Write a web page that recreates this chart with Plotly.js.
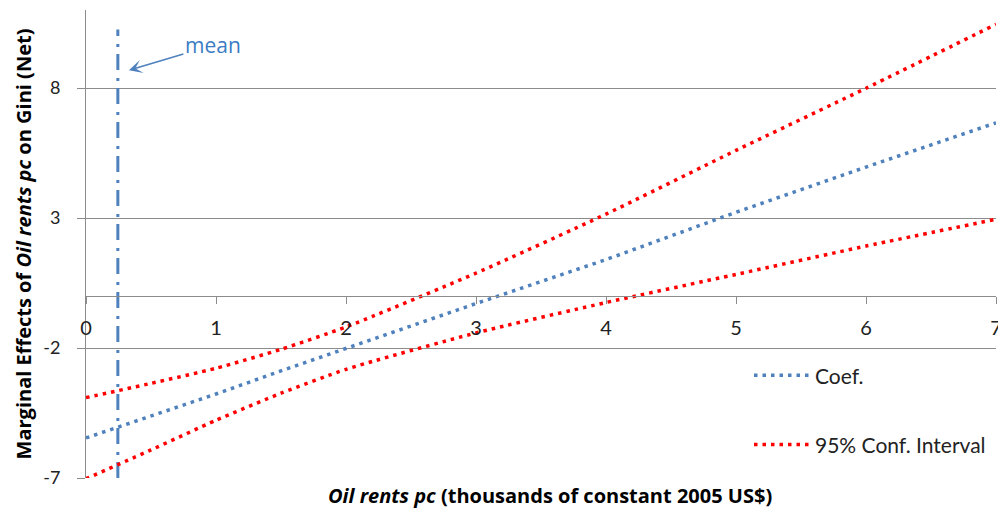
<!DOCTYPE html>
<html>
<head>
<meta charset="utf-8">
<script src="https://cdn.plot.ly/plotly-3.0.1.min.js"></script>
<style>html,body{margin:0;padding:0;background:#fff;}#chart{width:998px;height:510px;}</style>
</head>
<body>
<div id="chart"></div>
<script>
// Oil rents pc (thousands of constant 2005 US$)
const xVals = [0, 0.5, 1, 1.5, 2, 3, 4, 5, 6, 7];
// Marginal effect (coefficient)
const coefVals = [-5.46, -4.62, -3.77, -2.88, -2.01, -0.29, 1.40, 3.22, 4.96, 6.66];
// 95% confidence interval bounds
const upperVals = [-3.91, -3.36, -2.78, -2.05, -1.19, 0.88, 3.15, 5.60, 7.99, 10.45];
const lowerVals = [-7.03, -5.92, -4.78, -3.74, -2.82, -1.42, -0.25, 0.83, 1.92, 2.95];
// Mean of oil rents pc
const meanX = 0.245;
const meanYRange = [-7, 10.25];
const xTicks = [0, 1, 2, 3, 4, 5, 6, 7];
const yTicks = [-7, -2, 3, 8];
const legendNames = ['Coef.', '95% Conf. Interval'];

const blue = '#4f81bd';
const red = '#ff0000';
const gridGray = '#8c8c8c';
const dotDash = '3.5px,5px';

const traces = [
  {x: [meanX, meanX], y: meanYRange, mode: 'lines', showlegend: false, hoverinfo: 'skip',
   line: {color: blue, width: 3, dash: '16px,7px,3px,8px'}},
  {x: xVals, y: coefVals, mode: 'lines', name: legendNames[0], legendgroup: 'coef',
   line: {color: blue, width: 3.5, dash: dotDash}},
  {x: xVals, y: upperVals, mode: 'lines', name: legendNames[1], legendgroup: 'ci',
   line: {color: red, width: 3.5, dash: dotDash, shape: 'spline', smoothing: 0.6}},
  {x: xVals, y: lowerVals, mode: 'lines', name: legendNames[1], legendgroup: 'ci', showlegend: false,
   line: {color: red, width: 3.5, dash: dotDash, shape: 'spline', smoothing: 0.6}}
];

const font = 'Lato, "Open Sans", sans-serif';
const titleFont = '"Open Sans", Lato, sans-serif';

const layout = {
  width: 998, height: 510,
  margin: {l: 86, r: 2, t: 10, b: 32, pad: 0},
  paper_bgcolor: '#fff', plot_bgcolor: '#fff',
  font: {family: font, color: '#222'},
  showlegend: true,
  legend: {x: (749 - 86) / 910, y: 0.2625, xanchor: 'left', yanchor: 'top', bgcolor: 'rgba(0,0,0,0)',
    itemwidth: 56,
    font: {family: font, size: 21, color: '#222'}, tracegroupgap: 39, traceorder: 'grouped'},
  xaxis: {
    range: [0, 7], anchor: 'free', position: 7/18,
    tickvals: xTicks, ticktext: xTicks.map(String),
    ticks: 'outside', ticklen: 7, tickcolor: gridGray, tickwidth: 1,
    showline: true, linecolor: gridGray, linewidth: 1,
    showgrid: false, zeroline: false,
    tickfont: {family: font, size: 20, color: '#222'},
    ticklabelstandoff: 7, ticklabeloverflow: 'allow'
  },
  yaxis: {
    range: [-7, 11],
    tickvals: yTicks, ticktext: yTicks.map(String),
    ticks: 'outside', ticklen: 8, tickcolor: gridGray, tickwidth: 1,
    showline: true, linecolor: gridGray, linewidth: 1,
    showgrid: true, gridcolor: gridGray, gridwidth: 1, zeroline: false,
    tickfont: {family: font, size: 18, color: '#222'},
    ticklabelstandoff: 13,
    title: {text: 'Marginal Effects of <i>Oil rents pc</i> on Gini (Net)', standoff: 6,
      font: {family: titleFont, size: 20, weight: 'bold', color: '#000'}}
  },
  annotations: [
    {xref: 'paper', yref: 'paper', x: (550 - 86) / 910, y: (478 - 495) / 468,
     xanchor: 'center', yanchor: 'middle', showarrow: false,
     text: '<i>Oil rents pc</i> (thousands of constant 2005 US$)',
     font: {family: titleFont, size: 20, weight: 'bold', color: '#000'}},
    {xref: 'x', yref: 'y', x: 0.33, y: 8.68, ax: 84, ay: -25, text: 'mean',
     showarrow: true, arrowhead: 3, arrowsize: 1.4, arrowwidth: 1.6, arrowcolor: blue,
     font: {family: titleFont, size: 21, color: '#3a7cc4'}}
  ]
};

Plotly.newPlot('chart', traces, layout, {displayModeBar: false, staticPlot: true});
</script>
</body>
</html>
